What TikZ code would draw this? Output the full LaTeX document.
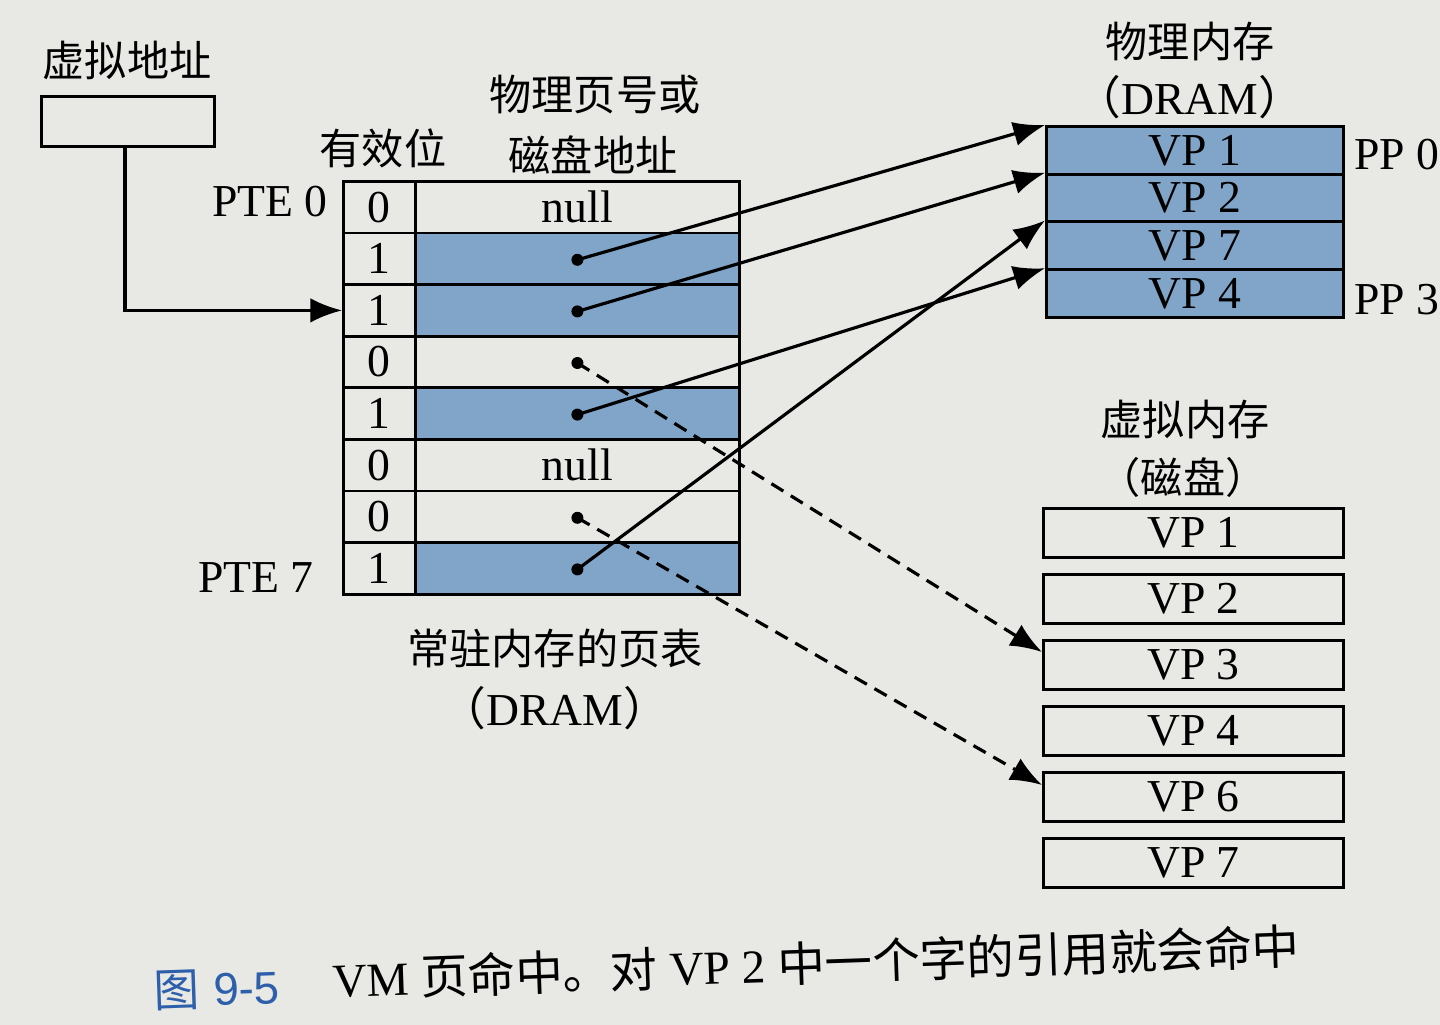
\documentclass[tikz,border=0pt]{standalone}
\usepackage{fontspec}
\setmainfont{Liberation Serif}
\newfontfamily\cjk{Noto Sans CJK SC}
\newfontfamily\capsans{Liberation Sans}
\usetikzlibrary{arrows.meta,calc}
\definecolor{pagebg}{RGB}{232,232,229}
\definecolor{cellblue}{RGB}{128,165,200}
\definecolor{capblue}{RGB}{45,95,170}
\newcommand{\zh}[1]{{\cjk #1}}
\begin{document}
\begin{tikzpicture}[
  lat/.style={font=\fontsize{13}{15}\selectfont},
  zhlab/.style={font=\fontsize{12}{14}\selectfont\cjk},
  cellbox/.style={draw=black,line width=0.8pt,inner sep=0pt,anchor=north west,
    minimum height=0.516cm,font=\fontsize{13}{15}\selectfont},
  pmbox/.style={draw=black,line width=0.8pt,inner sep=0pt,anchor=north west,
    minimum width=2.97cm,minimum height=0.4775cm,fill=cellblue,font=\fontsize{13}{15}\selectfont},
  diskbox/.style={draw=black,line width=0.8pt,inner sep=0pt,anchor=north west,
    minimum width=3.0cm,minimum height=0.49cm,font=\fontsize{13}{15}\selectfont},
  dotpt/.style={circle,fill=black,inner sep=0pt,minimum size=0.12cm},
  link/.style={line width=0.9pt,-{Latex[length=9pt,width=7pt]}},
  dlink/.style={line width=0.9pt,dash pattern=on 4pt off 2.5pt,-{Latex[length=9pt,width=7pt]}}
]
\fill[pagebg] (0,0) rectangle (14.4,-10.25);
\useasboundingbox (0,0) rectangle (14.4,-10.25);

% virtual address
\node[zhlab] (vlab) at (1.27,-0.60) {虚拟地址};
\node[draw=black,line width=0.8pt,inner sep=0pt,anchor=north west,
      minimum width=1.73cm,minimum height=0.50cm] (vbox) at (0.40,-0.95) {};

% page table headers
\node[zhlab] (hvalid) at (3.83,-1.48) {有效位};
\node[zhlab] (hppn1) at (5.95,-0.95) {物理页号或};
\node[zhlab] (hppn2) at (5.93,-1.55) {磁盘地址};

% page table rows
\foreach \i/\b/\f/\t in {0/0/none/null,1/1/cellblue/,2/1/cellblue/,3/0/none/,4/1/cellblue/,5/0/none/null,6/0/none/,7/1/cellblue/}{
  \node[cellbox,minimum width=0.72cm] (v\i) at (3.42,{-1.80-\i*0.516}) {\b};
  \node[cellbox,minimum width=3.24cm,fill=\f] (c\i) at (4.14,{-1.80-\i*0.516}) {\t};
}
\node[lat,anchor=east] (pte0) at (3.40,-2.02) {PTE 0};
\node[lat,anchor=east] (pte7) at (3.26,-5.78) {PTE 7};
\node[zhlab] (ptlab1) at (5.55,-6.48) {常驻内存的页表};
\node[lat] (ptlab2) at (5.55,-7.08) {\zh{（}DRAM\zh{）}};

% dots
\foreach \i in {1,2,3,4,6,7}{
  \node[dotpt] (d\i) at ($(c\i.center)+(0,-0.01)$) {};
}

% physical memory
\node[zhlab] (pmlab1) at (11.90,-0.42) {物理内存};
\node[lat] (pmlab2) at (11.90,-0.97) {\zh{（}DRAM\zh{）}};
\foreach \i/\t in {0/VP 1,1/VP 2,2/VP 7,3/VP 4}{
  \node[pmbox] (p\i) at (10.45,{-1.25-\i*0.4775}) {\t};
}
\node[lat] (pp0) at (13.97,-1.55) {PP 0};
\node[lat] (pp3) at (13.97,-3.00) {PP 3};

% virtual memory (disk)
\node[zhlab] (vmlab1) at (11.85,-4.20) {虚拟内存};
\node[zhlab] (vmlab2) at (11.83,-4.77) {（磁盘）};
\node[diskbox] (k1) at (10.42,-5.07) {VP 1};
\node[diskbox] (k2) at (10.42,-5.73) {VP 2};
\node[diskbox] (k3) at (10.42,-6.39) {VP 3};
\node[diskbox] (k4) at (10.42,-7.05) {VP 4};
\node[diskbox] (k6) at (10.42,-7.71) {VP 6};
\node[diskbox] (k7) at (10.42,-8.37) {VP 7};

% connectors
\draw[link] ($(vbox.south west)+(0.85,0)$) |- (v2.west);
\draw[link] (d1.center) -- (p0.north west);
\draw[link] (d2.center) -- (p1.north west);
\draw[link] (d4.center) -- (p3.north west);
\draw[link] (d7.center) -- (p2.north west);
\draw[dlink] (d3.center) -- ($(k3.north west)+(0,-0.13)$);
\draw[dlink] (d6.center) -- ($(k6.north west)+(0,-0.14)$);

% caption
\node[anchor=west,rotate=2,text=capblue,font=\fontsize{13}{15}\selectfont] (capnum) at (1.42,-9.92) {\zh{图}\hspace{0.3em}{\capsans 9-5}};
\node[anchor=west,rotate=2,font=\fontsize{13.5}{15}\selectfont] (captxt) at (3.20,-9.80) {VM \zh{页命中。对} VP 2 \zh{中一个字的引用就会命中}};
\end{tikzpicture}
\end{document}
